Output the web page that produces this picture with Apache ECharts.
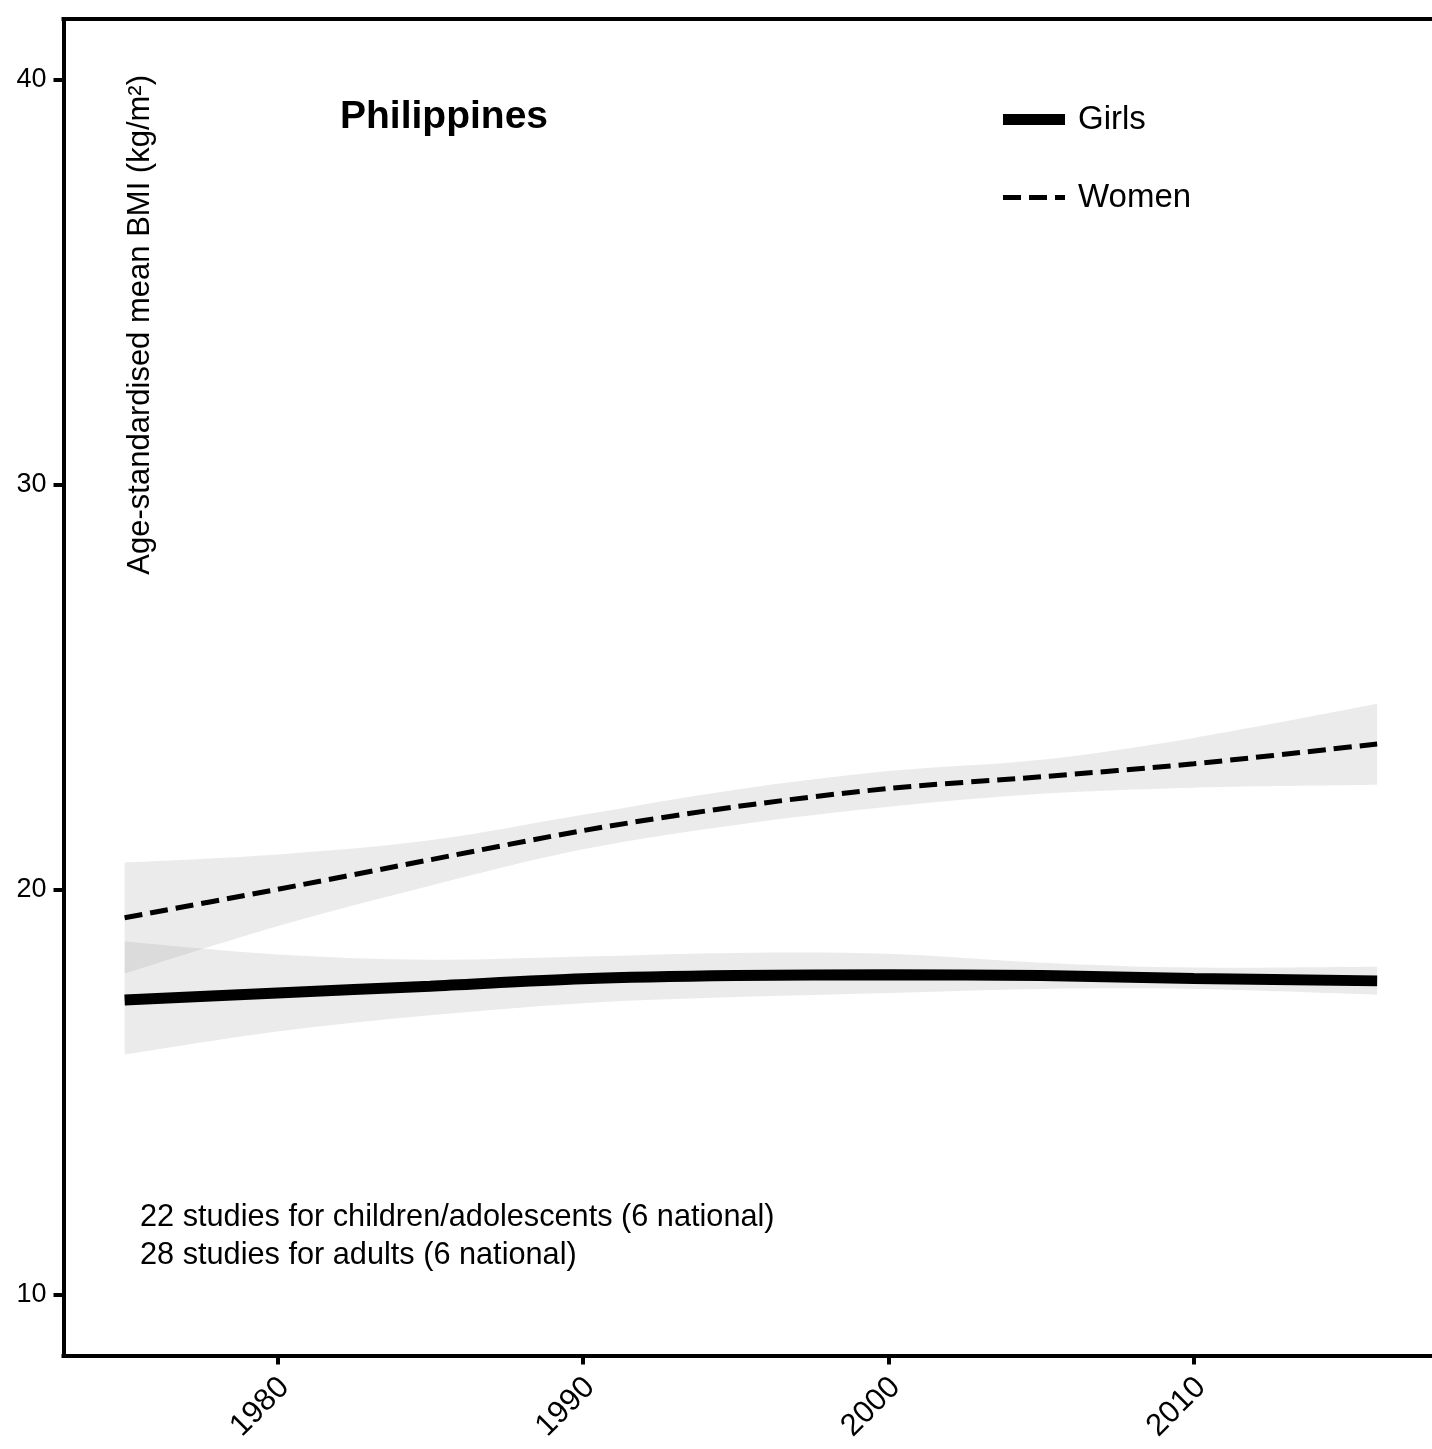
<!DOCTYPE html>
<html><head><meta charset="utf-8">
<script src="https://cdn.jsdelivr.net/npm/echarts@6/dist/echarts.min.js"></script>
<style>html,body{margin:0;padding:0;background:#fff}#c{width:1432px;height:1449px}</style>
</head><body><div id="c"></div>
<script>
const years = [1975, 1980, 1985, 1990, 1995, 2000, 2005, 2010, 2016];
const womenMean  = [19.31, 20.01, 20.74, 21.46, 22.05, 22.50, 22.79, 23.11, 23.60];
const womenUpper = [20.67, 20.87, 21.22, 21.85, 22.47, 22.93, 23.21, 23.75, 24.59];
const womenLower = [17.93, 19.10, 20.10, 21.00, 21.60, 22.05, 22.37, 22.52, 22.59];
const girlsMean  = [17.28, 17.45, 17.62, 17.80, 17.88, 17.90, 17.88, 17.81, 17.75];
const girlsUpper = [18.72, 18.40, 18.27, 18.35, 18.44, 18.42, 18.20, 18.08, 18.10];
const girlsLower = [15.93, 16.50, 16.90, 17.20, 17.35, 17.45, 17.55, 17.55, 17.41];
const xTicks = [1980, 1990, 2000, 2010];
const yTicks = [10, 20, 30, 40];
const titleText = 'Philippines';
const yLabel = 'Age-standardised mean BMI (kg/m²)';
const notes = ['22 studies for children/adolescents (6 national)', '28 studies for adults (6 national)'];

const FONT = '"Liberation Sans", Arial, Helvetica, sans-serif';

function curve(P) {
  let s = '';
  for (let i = 0; i < P.length - 1; i++) {
    const p0 = P[Math.max(i - 1, 0)], p1 = P[i], p2 = P[i + 1], p3 = P[Math.min(i + 2, P.length - 1)];
    const c1 = [p1[0] + (p2[0] - p0[0]) / 6, p1[1] + (p2[1] - p0[1]) / 6];
    const c2 = [p2[0] - (p3[0] - p1[0]) / 6, p2[1] - (p3[1] - p1[1]) / 6];
    s += ' C' + c1[0] + ',' + c1[1] + ' ' + c2[0] + ',' + c2[1] + ' ' + p2[0] + ',' + p2[1];
  }
  return s;
}

function band(name, up, lo) {
  return {
    type: 'custom', name: name, silent: true, z: 1,
    data: years.map((y, i) => [y, lo[i], up[i]]),
    encode: { x: 0, y: [1, 2] },
    renderItem: function (params, api) {
      if (params.dataIndex !== 0) return null;
      const U = years.map((y, i) => api.coord([y, up[i]]));
      const L = years.map((y, i) => api.coord([y, lo[i]])).reverse();
      const d = 'M' + U[0][0] + ',' + U[0][1] + curve(U) + ' L' + L[0][0] + ',' + L[0][1] + curve(L) + ' Z';
      return { type: 'path', shape: { pathData: d }, style: { fill: 'rgba(153,153,153,0.2)', stroke: null } };
    }
  };
}

const chart = echarts.init(document.getElementById('c'), null, { renderer: 'canvas' });
const axisLineStyle = { color: '#000', width: 4, cap: 'square' };
const legendText = { fontSize: 33, color: '#000', fontFamily: FONT, padding: [0, 0, 0, 8] };
chart.setOption({
  animation: false,
  backgroundColor: '#fff',
  textStyle: { fontFamily: FONT },
  title: { text: titleText, left: 340, top: 98, padding: 0,
    textStyle: { fontSize: 39, fontWeight: 'bold', color: '#000', fontFamily: FONT } },
  grid: { left: 63.5, top: 19, width: 1374.75, height: 1336.5, containLabel: false, outerBoundsMode: 'none' },
  legend: [
    { data: [{ name: 'Girls', icon: 'rect' }], left: 1003, top: 103, padding: 0, itemWidth: 62, itemHeight: 11,
      selectedMode: false, textStyle: legendText },
    { data: [{ name: 'Women', icon: 'path://M0,0h18v5h-18z M26,0h18v5h-18z M52,0h10v5h-10z' }],
      left: 1003, top: 181, padding: 0, itemWidth: 62, itemHeight: 5,
      selectedMode: false, textStyle: legendText }
  ],
  xAxis: [
    { type: 'value', min: 1973, max: 2018, position: 'bottom',
      axisLine: { show: true, onZero: false, lineStyle: axisLineStyle },
      axisTick: { show: true, length: 9, customValues: xTicks, lineStyle: { color: '#000', width: 4 } },
      axisLabel: { show: true, customValues: xTicks, rotate: 45, margin: 20,
        verticalAlign: 'top', lineHeight: 20,
        formatter: v => String(v), fontSize: 31, color: '#000', fontFamily: FONT },
      splitLine: { show: false } },
    { type: 'value', min: 1973, max: 2018, position: 'top',
      axisLine: { show: true, onZero: false, lineStyle: axisLineStyle },
      axisTick: { show: false }, axisLabel: { show: false }, splitLine: { show: false } }
  ],
  yAxis: {
    type: 'value', min: 8.5, max: 41.5,
    axisLine: { show: true, onZero: false, lineStyle: axisLineStyle },
    axisTick: { show: true, length: 10, customValues: yTicks, lineStyle: { color: '#000', width: 4 } },
    axisLabel: { show: true, customValues: yTicks, margin: 17, formatter: v => String(v),
      fontSize: 27, color: '#000', fontFamily: FONT },
    splitLine: { show: false }
  },
  graphic: [
    { type: 'text', x: 140, y: 75, rotation: Math.PI / 2, z: 10,
      style: { text: yLabel, fontSize: 31, fontFamily: FONT, fill: '#000', align: 'right', verticalAlign: 'middle' } },
    { type: 'text', x: 140, y: 1218, z: 10,
      style: { text: notes[0], fontSize: 30.7, fontFamily: FONT, fill: '#000', align: 'left', verticalAlign: 'middle' } },
    { type: 'text', x: 140, y: 1256, z: 10,
      style: { text: notes[1], fontSize: 30.7, fontFamily: FONT, fill: '#000', align: 'left', verticalAlign: 'middle' } }
  ],
  series: [
    band('WomenBand', womenUpper, womenLower),
    band('GirlsBand', girlsUpper, girlsLower),
    { name: 'Girls', type: 'line', z: 3, smooth: 0.3, symbol: 'none', silent: true,
      data: years.map((y, i) => [y, girlsMean[i]]),
      itemStyle: { color: '#000' },
      lineStyle: { color: '#000', width: 11, cap: 'butt' } },
    { name: 'Women', type: 'line', z: 4, smooth: 0.3, symbol: 'none', silent: true,
      data: years.map((y, i) => [y, womenMean[i]]),
      itemStyle: { color: '#000' },
      lineStyle: { color: '#000', width: 5, type: [18, 8], cap: 'butt' } }
  ]
});
</script>
</body></html>
